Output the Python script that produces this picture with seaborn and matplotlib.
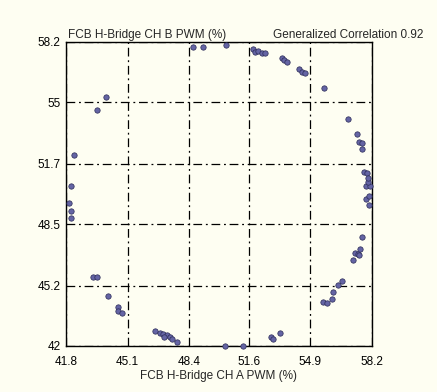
import matplotlib
matplotlib.use("Agg")
import matplotlib.pyplot as plt
import seaborn as sns
import pandas as pd

x_ticks = [41.8, 45.1, 48.4, 51.6, 54.9, 58.2]
y_ticks = [42, 45.2, 48.5, 51.7, 55, 58.2]
x_label = "FCB H-Bridge CH A PWM (%)"
y_label = "FCB H-Bridge CH B PWM (%)"
corr_label = "Generalized Correlation 0.92"

ch_a = [48.61, 49.13, 50.37, 43.94, 43.46, 42.23, 42.07, 41.96, 42.07, 42.07,
        43.25, 43.46, 44.05, 44.59, 44.59, 44.80, 46.57, 46.84, 47.00, 47.21,
        47.37, 47.48, 47.05, 47.75, 50.32, 51.29, 52.79, 52.89, 53.27,
        55.57, 55.79, 56.05, 56.11, 56.38, 56.59, 57.18, 57.29, 57.45, 57.56,
        57.50, 57.66, 57.88, 58.04, 58.04, 57.88, 58.09, 57.98,
        51.82, 51.93, 52.09, 52.30, 52.46, 53.38, 53.48, 53.64, 54.29, 54.45,
        54.61, 55.63, 56.91, 57.39, 57.50, 57.66, 57.66, 57.77, 57.93, 57.98]
ch_b = [57.93, 57.93, 58.04, 55.27, 54.57, 52.18, 50.52, 49.62, 49.19, 48.82,
        45.68, 45.68, 44.66, 44.08, 43.86, 43.76, 42.80, 42.69, 42.64, 42.59,
        42.48, 42.37, 42.48, 42.21, 42.00, 42.00, 42.48, 42.37, 42.69,
        44.34, 44.29, 44.50, 44.88, 45.25, 45.46, 46.58, 46.95, 46.90, 47.17,
        46.85, 47.81, 49.83, 49.99, 49.51, 50.52, 50.52, 50.74,
        57.82, 57.66, 57.72, 57.61, 57.61, 57.34, 57.24, 57.13, 56.76, 56.60,
        56.54, 55.75, 54.09, 53.29, 52.87, 52.82, 52.50, 51.27, 51.22, 50.95]

df = pd.DataFrame({"a": ch_a, "b": ch_b})

sns.set_style("white")
plt.rcParams["font.family"] = ["Liberation Sans", "DejaVu Sans"]

bg = "#FEFEF2"
fig = plt.figure(figsize=(4.37, 3.92), dpi=100, facecolor=bg)
ax = fig.add_axes([66/437, 1-346/392, 306/437, 304/392])
ax.set_facecolor(bg)

sns.scatterplot(data=df, x="a", y="b", ax=ax, s=15, color="#6464a4",
                edgecolor="#2a2a55", linewidth=0.5, zorder=3, clip_on=False)

ax.set_xlim(x_ticks[0], x_ticks[-1])
ax.set_ylim(y_ticks[0], y_ticks[-1])
ax.set_xticks(x_ticks)
ax.set_xticklabels([f"{v:g}" for v in x_ticks])
ax.set_yticks(y_ticks)
ax.set_yticklabels([f"{v:g}" for v in y_ticks])
ax.tick_params(length=0, labelsize=8.5, colors="black")
ax.tick_params(axis="x", pad=7)
ax.tick_params(axis="y", pad=4)
ax.grid(True, color="black", linestyle=(0, (7, 3, 1.5, 3)), linewidth=0.9)
for s in ax.spines.values():
    s.set_color("black")
    s.set_linewidth(1.0)
    s.set_visible(True)

ax.set_xlabel(x_label, fontsize=8.5, labelpad=2)
ax.set_ylabel("")
fig.text(68/437, 1-35/392, y_label, fontsize=8.5, ha="left", va="center")
fig.text(423/437, 1-35/392, corr_label, fontsize=8.5, ha="right", va="center")

fig.savefig("out.png", dpi=100, facecolor=bg)
